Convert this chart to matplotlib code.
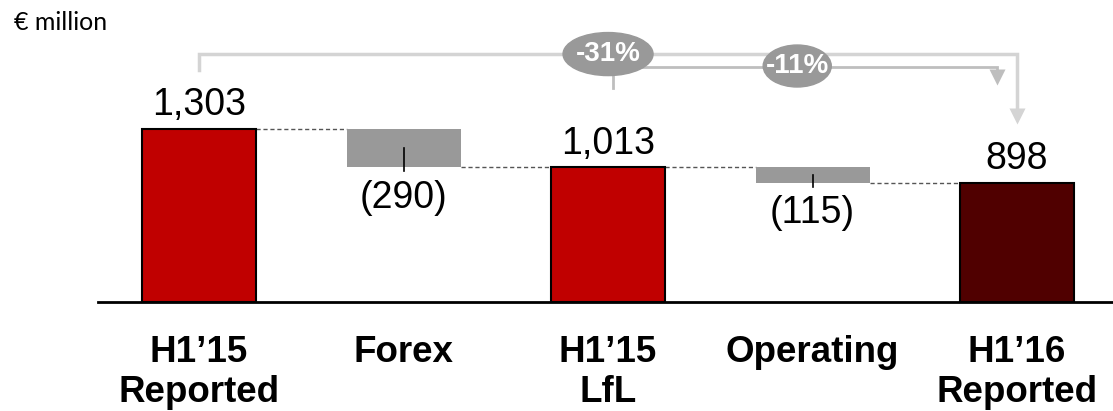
import matplotlib
matplotlib.use('Agg')
from matplotlib import pyplot as plt
from matplotlib.patches import Ellipse

plt.rcParams['font.family'] = ['Liberation Sans', 'DejaVu Sans']

categories = ['H1\u201915\nReported', 'Forex', 'H1\u201915\nLfL', 'Operating', 'H1\u201916\nReported']
h1_15_reported = 1303
forex = -290
h1_15_lfl = 1013
operating = -115
h1_16_reported = 898

RED = '#C00000'
DARK_RED = '#500000'
GREY = '#999999'
BRACKET_LIGHT = '#D4D4D4'
BRACKET_MID = '#BEBEBE'


def fmt(v):
    return '(%s)' % format(-v, ',') if v < 0 else format(v, ',')


def main():
    fig = plt.figure(figsize=(11.13, 4.11), dpi=100)
    ax = fig.add_axes([98 / 1113, 109 / 411, 1015 / 1113, 302 / 411])

    width = 0.557
    totals = [(0, h1_15_reported, RED), (2, h1_15_lfl, RED), (4, h1_16_reported, DARK_RED)]
    deltas = [(1, h1_15_reported, forex), (3, h1_15_lfl, operating)]

    for x, v, c in totals:
        ax.bar(x, v, width=width, color=c, edgecolor='black', linewidth=1.5, zorder=3)
        ax.annotate(fmt(v), (x, v), xytext=(0, 10), textcoords='offset points',
                    ha='center', va='baseline', fontsize=27)

    for x, start, d in deltas:
        end = start + d
        ax.bar(x, d, bottom=start, width=width, color=GREY, linewidth=0, zorder=3)
        ax.plot([x, x], [start + d / 2, end - 30], color='black', lw=1.2, zorder=4)
        ax.annotate(fmt(d), (x, end), xytext=(0, -9), textcoords='offset points',
                    ha='center', va='top', fontsize=27)

    # dashed connectors between consecutive bar levels
    levels = [h1_15_reported, h1_15_reported + forex, h1_15_lfl, h1_15_lfl + operating]
    for i, lv in enumerate(levels):
        ax.plot([i + width / 2, i + 1 - width / 2], [lv, lv], color='#555555',
                lw=1, ls=(0, (3, 2)), zorder=2)

    # -31% bracket: H1'15 reported -> H1'16 reported
    y1 = 1867
    ax.plot([0, 0, 4, 4], [1747, y1, y1, 1400], color=BRACKET_LIGHT, lw=2.5,
            zorder=1, solid_joinstyle='miter')
    ax.plot([4], [1400], marker='v', ms=12, color=BRACKET_LIGHT, mec='none', zorder=1)

    # -11% bracket: H1'15 LfL -> H1'16 reported
    y2 = 1770
    x2_end = 3.9
    ax.plot([2.025, 2.025, x2_end, x2_end], [1611, y2, y2, 1700], color=BRACKET_MID,
            lw=2, zorder=1, solid_joinstyle='miter')
    ax.plot([x2_end], [1695], marker='v', ms=12, color=BRACKET_MID, mec='none', zorder=1)

    pct_total = round((h1_16_reported - h1_15_reported) / h1_15_reported * 100)
    pct_lfl = round((h1_16_reported - h1_15_lfl) / h1_15_lfl * 100)
    for cx, cy, w, h, p in [(2.0, 1867, 0.44, 324, pct_total),
                            (2.925, 1777, 0.333, 316, pct_lfl)]:
        ax.add_patch(Ellipse((cx, cy), w, h, color=GREY, zorder=5))
        ax.text(cx, cy, '%d%%' % p, ha='center', va='center', color='white',
                fontsize=20, fontweight='bold', zorder=6)

    for i, c in enumerate(categories):
        ax.text(i, -245, c, ha='center', va='top', fontsize=26.5, fontweight='bold',
                linespacing=1.2)

    fig.text(14 / 1113, 1 - 22 / 411, '\u20ac million', ha='left', va='center',
             fontsize=18, family=['Lato', 'DejaVu Sans'])

    ax.set_xlim(-0.494, 4.469)
    ax.set_ylim(0, 302 / 0.1328)
    for s in ['top', 'right', 'left']:
        ax.spines[s].set_visible(False)
    ax.spines['bottom'].set_linewidth(2)
    ax.set_xticks([])
    ax.set_yticks([])
    ax.patch.set_alpha(0)

    fig.savefig('out.png', dpi=100)


if __name__ == '__main__':
    main()
